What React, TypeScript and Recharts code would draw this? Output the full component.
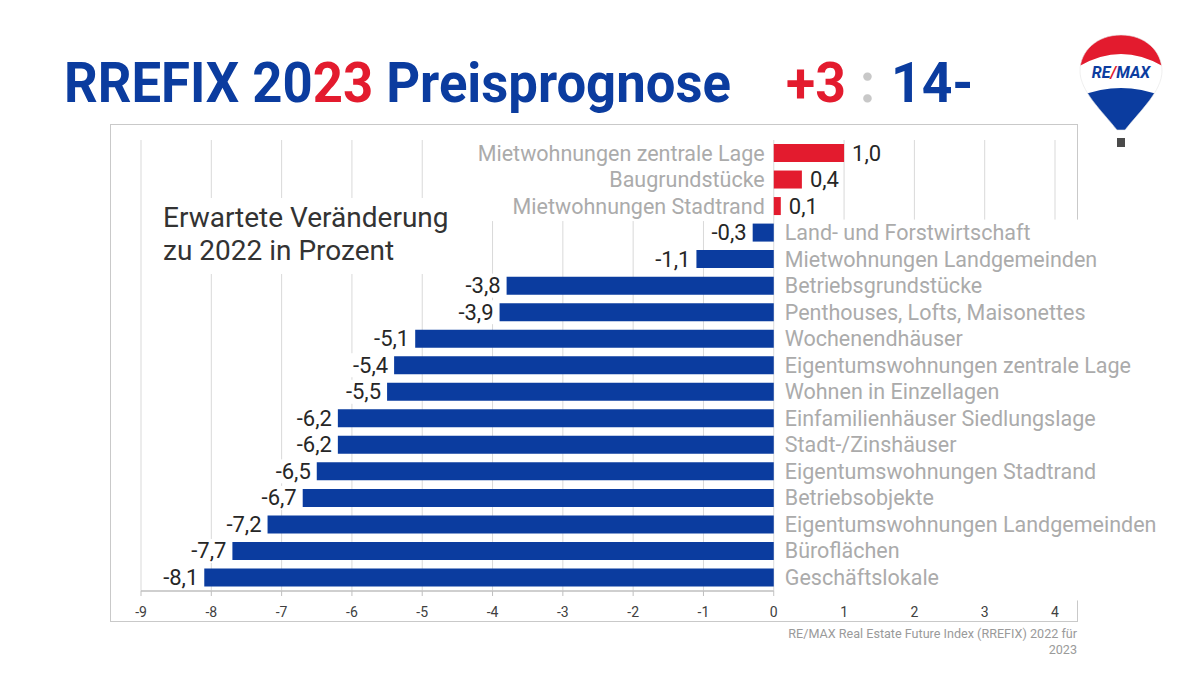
import { BarChart, Bar, XAxis, YAxis, CartesianGrid, Cell, LabelList } from 'recharts'

const CATEGORIES = [
  'Mietwohnungen zentrale Lage',
  'Baugrundstücke',
  'Mietwohnungen Stadtrand',
  'Land- und Forstwirtschaft',
  'Mietwohnungen Landgemeinden',
  'Betriebsgrundstücke',
  'Penthouses, Lofts, Maisonettes',
  'Wochenendhäuser',
  'Eigentumswohnungen zentrale Lage',
  'Wohnen in Einzellagen',
  'Einfamilienhäuser Siedlungslage',
  'Stadt-/Zinshäuser',
  'Eigentumswohnungen Stadtrand',
  'Betriebsobjekte',
  'Eigentumswohnungen Landgemeinden',
  'Büroflächen',
  'Geschäftslokale',
]

const VALUES = [1.0, 0.4, 0.1, -0.3, -1.1, -3.8, -3.9, -5.1, -5.4, -5.5, -6.2, -6.2, -6.5, -6.7, -7.2, -7.7, -8.1]

const X_TICKS = [-9, -8, -7, -6, -5, -4, -3, -2, -1, 0, 1, 2, 3, 4]

const BLUE = '#0B3C9F'
const RED = '#E31B2E'
const FONT = 'Roboto, "Noto Sans", sans-serif'

const data = CATEGORIES.map((name, i) => ({ name, value: VALUES[i] }))

const fmt = (v: number) => v.toFixed(1).replace('.', ',')

function CategoryLabel(props: any) {
  const { x, y, width, height, index } = props
  const v = VALUES[index]
  const left = Math.min(x, x + width)
  const right = Math.max(x, x + width)
  const cy = y + height / 2
  if (v >= 0) {
    return (
      <g>
        <rect x={left - 300} y={cy - 13} width={298} height={28} fill="white" />
        <text x={left - 9} y={cy} textAnchor="end" dominantBaseline="central"
          fontSize={21.5} fill="#ABABAB" fontFamily={FONT}>{CATEGORIES[index]}</text>
      </g>
    )
  }
  return (
    <g>
      <rect x={right + 1} y={cy - 13} width={400} height={36} fill="white" />
      <text x={right + 11} y={cy} textAnchor="start" dominantBaseline="central"
        fontSize={21.5} fill="#ABABAB" fontFamily={FONT}>{CATEGORIES[index]}</text>
    </g>
  )
}

function ValueLabel(props: any) {
  const { x, y, width, height, index } = props
  const v = VALUES[index]
  const left = Math.min(x, x + width)
  const right = Math.max(x, x + width)
  const cy = y + height / 2
  if (v >= 0) {
    return (
      <text x={right + 8} y={cy} textAnchor="start" dominantBaseline="central"
        fontSize={22} fill="#262626" fontFamily={FONT}>{fmt(v)}</text>
    )
  }
  return (
    <g>
      <rect x={left - 46} y={cy - 12} width={44} height={24} fill="white" />
      <text x={left - 6} y={cy} textAnchor="end" dominantBaseline="central"
        fontSize={22} fill="#262626" fontFamily={FONT}>{fmt(v)}</text>
    </g>
  )
}

function AxisTick(props: any) {
  const { x, y, payload, width } = props
  const v = payload.value
  const step = width ? width / (X_TICKS.length - 1) : 0
  return (
    <g>
      {v < 0 && step > 0 && (
        <line x1={x} x2={x + step} y1={y} y2={y} stroke="#BFBFBF" strokeWidth={1.5} />
      )}
      {v <= 0 && <line x1={x} x2={x} y1={y} y2={y + 5} stroke="#BFBFBF" />}
      <text x={x} y={y + 26} textAnchor="middle" fontSize={14} fill="#404040" fontFamily={FONT}>{v}</text>
    </g>
  )
}

function Balloon() {
  const outline = 'M43,2 C67,2 84,18 84,38 C84,58 62,78 47,97 L39,97 C24,78 2,58 2,38 C2,18 19,2 43,2 Z'
  return (
    <svg width={86} height={118} style={{ position: 'absolute', left: 1078, top: 33 }}>
      <defs>
        <clipPath id="balloon-clip"><path d={outline} /></clipPath>
      </defs>
      <g clipPath="url(#balloon-clip)">
        <rect x={0} y={0} width={86} height={118} fill="white" />
        <path d="M0,0 H86 V34 Q43,8 0,34 Z" fill={RED} />
        <path d="M0,64 Q43,46 86,64 V118 H0 Z" fill={BLUE} />
      </g>
      <path d={outline} fill="none" stroke="#E4E4E4" strokeWidth={0.6} />
      <text x={43} y={45} textAnchor="middle" fontSize={16} fontWeight={700}
        fontFamily={FONT} fill={BLUE} fontStyle="italic">
        RE<tspan fill={RED}>/</tspan>MAX
      </text>
      <rect x={39} y={105} width={8} height={9} fill="#4A4A4A" />
    </svg>
  )
}

const titleStyle: React.CSSProperties = {
  position: 'absolute', top: 55, fontSize: 56, lineHeight: '56px', fontWeight: 700,
  fontFamily: FONT, color: BLUE, whiteSpace: 'nowrap',
  transform: 'scaleX(0.955)', transformOrigin: 'left top',
}

export default function App() {
  return (
    <div style={{ position: 'relative', width: 1203, height: 677, background: 'white', overflow: 'hidden', fontFamily: FONT }}>
      <style>{'body{margin:0}'}</style>

      {/* title */}
      <div style={{ ...titleStyle, left: 64, transform: 'scaleX(0.94)' }}>
        RREFIX 20<span style={{ color: RED }}>23</span> Preisprognose
      </div>
      <div style={{ ...titleStyle, left: 786, color: RED }}>+3</div>
      <div style={{ ...titleStyle, left: 860, color: '#C8C8C8' }}>:</div>
      <div style={{ ...titleStyle, left: 891 }}>14-</div>

      <Balloon />

      {/* chart frame */}
      <div style={{
        position: 'absolute', left: 110, top: 124, width: 966, height: 496,
        border: '1px solid #C9C9C9',
      }} />

      <div style={{ position: 'absolute', left: 0, top: 0 }}>
        <BarChart
          width={1203} height={677} data={data} layout="vertical"
          margin={{ top: 140, right: 148, bottom: 56, left: 141 }}
          barCategoryGap={0}
        >
          <CartesianGrid horizontal={false} stroke="#D9D9D9" />
          <XAxis
            type="number" domain={[-9, 4]} ticks={X_TICKS} height={30}
            axisLine={false} tickLine={false} tickSize={0} tickMargin={0}
            tick={<AxisTick />} interval={0}
          />
          <YAxis type="category" dataKey="name" hide />
          <Bar dataKey="value" barSize={18} isAnimationActive={false}>
            {data.map(d => (
              <Cell key={d.name} fill={d.value >= 0 ? RED : BLUE} />
            ))}
            <LabelList dataKey="name" content={<CategoryLabel />} />
            <LabelList dataKey="value" content={<ValueLabel />} />
          </Bar>
        </BarChart>
      </div>

      {/* annotation */}
      <div style={{
        position: 'absolute', left: 155, top: 198, width: 305, height: 76,
        background: 'white', paddingLeft: 8, paddingTop: 3, boxSizing: 'border-box',
        fontSize: 28, lineHeight: '33px', color: '#333333',
      }}>
        Erwartete Veränderung<br />zu 2022 in Prozent
      </div>

      {/* source */}
      <div style={{
        position: 'absolute', right: 126, top: 626, fontSize: 12.6, lineHeight: '16px',
        color: '#9A9A9A', textAlign: 'right', whiteSpace: 'nowrap',
      }}>
        RE/MAX Real Estate Future Index (RREFIX) 2022 für<br />2023
      </div>
    </div>
  )
}
